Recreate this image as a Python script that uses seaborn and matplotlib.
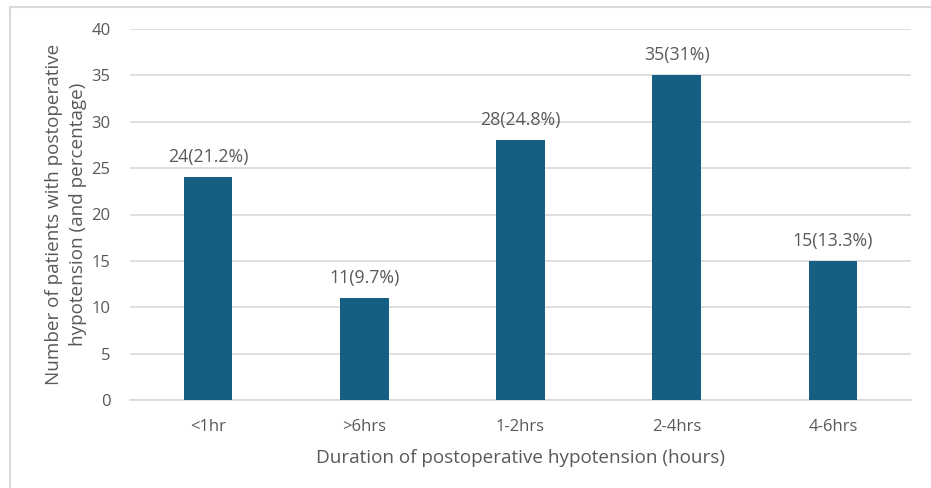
import matplotlib
matplotlib.use("Agg")
import matplotlib.pyplot as plt
from matplotlib.lines import Line2D
import seaborn as sns
import pandas as pd

categories = ["<1hr", ">6hrs", "1-2hrs", "2-4hrs", "4-6hrs"]
counts = [24, 11, 28, 35, 15]
percentages = [21.2, 9.7, 24.8, 31, 13.3]
y_ticks = [0, 5, 10, 15, 20, 25, 30, 35, 40]

sns.set_theme(style="white")
plt.rcParams["font.family"] = ["Open Sans", "DejaVu Sans"]

text_color = "#595959"
grid_color = "#d9d9d9"
bar_color = "#156082"

df = pd.DataFrame({"duration": categories, "patients": counts})

fig = plt.figure(figsize=(9.31, 4.88), dpi=100)
ax = fig.add_axes([130 / 931, 1 - 400 / 488, 781 / 931, 371 / 488])

sns.barplot(data=df, x="duration", y="patients", order=categories,
            color=bar_color, saturation=1, width=0.31, linewidth=0,
            ax=ax, zorder=3)

ax.set_ylim(0, 40)
ax.set_xlim(-0.5, len(categories) - 0.5)
ax.set_yticks(y_ticks)
ax.yaxis.grid(True, color=grid_color, linewidth=1.2, zorder=0)
ax.set_axisbelow(True)
for side in ["top", "right", "left"]:
    ax.spines[side].set_visible(False)
ax.spines["bottom"].set_color(grid_color)
ax.spines["bottom"].set_linewidth(1.2)
ax.tick_params(axis="both", length=0, labelsize=12, colors=text_color)
ax.tick_params(axis="x", pad=14)
ax.tick_params(axis="y", pad=14)

for i, (c, p) in enumerate(zip(counts, percentages)):
    ax.annotate(f"{c}({p:g}%)", xy=(i, c), xytext=(0, 8), textcoords="offset points",
                ha="center", va="bottom", fontsize=12.8, color=text_color)

ax.set_xlabel("Duration of postoperative hypotension (hours)", fontsize=13.6,
              color=text_color, labelpad=10)
ax.set_ylabel("Number of patients with postoperative\nhypotension (and percentage)",
              fontsize=13.6, color=text_color, labelpad=3, linespacing=1.45)

# thin frame along the top and left of the figure
fig.add_artist(Line2D([9.5 / 931, 1], [1 - 6.5 / 488, 1 - 6.5 / 488],
                      transform=fig.transFigure, color="#d9d9d9", linewidth=1.5))
fig.add_artist(Line2D([9.5 / 931, 9.5 / 931], [0, 1 - 6.5 / 488],
                      transform=fig.transFigure, color="#d9d9d9", linewidth=1.5))

fig.savefig("out.png", dpi=100)
